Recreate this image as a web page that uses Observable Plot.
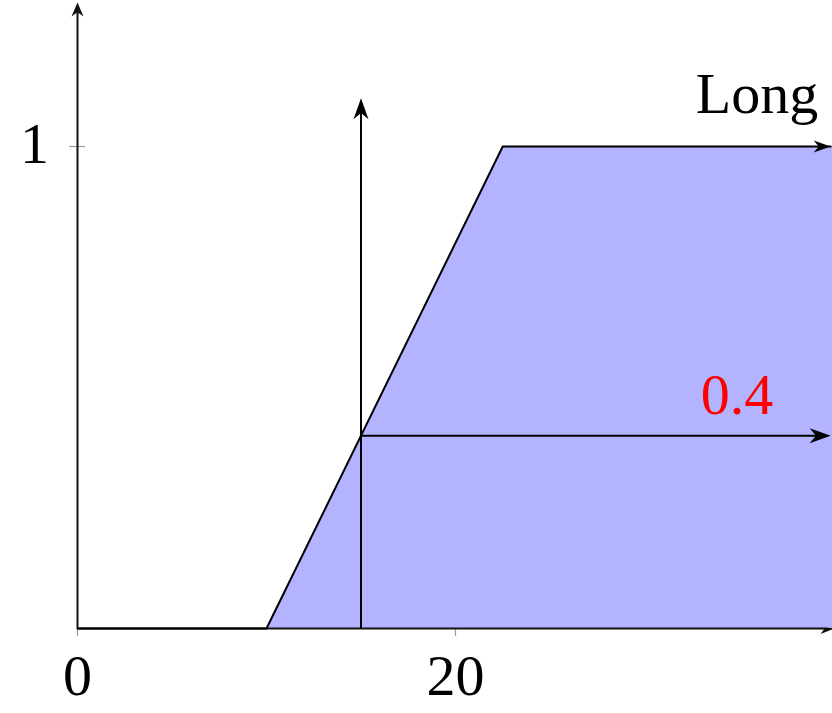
<!DOCTYPE html>
<html>
<head>
<meta charset="utf-8">
<script src="https://cdn.jsdelivr.net/npm/d3@7"></script>
<script src="https://cdn.jsdelivr.net/npm/@observablehq/plot@0.6"></script>
<style>
  html, body { margin: 0; padding: 0; background: #fff; }
  svg { display: block; }
  svg text { font-family: "Liberation Serif", "Times New Roman", serif !important; }
</style>
</head>
<body>
<div id="chart"></div>
<script>
// ---- data ----
const xTickValues = [0, 20];
const xTickLabels = ["0", "20"];
const yTickValues = [1];
const yTickLabels = ["1"];

// membership function "Long" (trapezoid)
const curveX = [0, 10, 22.5, 39.85];
const curveY = [0, 0, 1, 1];
const fillX = [10, 22.5, 40];
const fillY = [0, 1, 1];

// input value and membership degree
const inputX = 15;
const degree = 0.4;
const inputArrowTop = 1.1;
const arrowEndX = 39.85;

const setName = "Long";
const degreeLabel = "0.4";
const yAxisTop = 1.299;
const xAxisEnd = 40.05;

// ---- helpers ----
const stealth = (L, W) => ({
  draw(ctx) {
    ctx.moveTo(0, 0);
    ctx.lineTo(W / 2, L);
    ctx.lineTo(0, 0.7 * L);
    ctx.lineTo(-W / 2, L);
    ctx.closePath();
  }
});
const font = "Liberation Serif, serif";
const fillData = fillX.map((x, i) => ({x, y: fillY[i]}));
const curveData = curveX.map((x, i) => ({x, y: curveY[i]}));

const chart = Plot.plot({
  width: 832,
  height: 713,
  x: {domain: [0, 40], range: [77, 833], axis: null},
  y: {domain: [0, 1], range: [628, 146], axis: null},
  style: {background: "#fff", overflow: "hidden", fontFamily: "Liberation Serif, serif"},
  marks: [
    // x-axis arrowhead (under fill)
    Plot.dot([{x: xAxisEnd, y: 0}], {x: "x", y: "y", symbol: stealth(14, 11), rotate: 90, fill: "#111", stroke: "none"}),
    // shaded membership region
    Plot.areaY(fillData, {x: "x", y: "y", fill: "#b3b3ff", stroke: "none"}),
    // ticks
    Plot.ruleX(xTickValues, {x: d => d, y1: 0, y2: -0.0166, stroke: "#9a9a9a", strokeWidth: 1.2}),
    Plot.ruleY(yTickValues, {y: d => d, x1: -0.42, x2: 0.42, stroke: "#9a9a9a", strokeWidth: 1.2}),
    // axes lines
    Plot.ruleY([0], {x1: 0, x2: xAxisEnd - 0.3, stroke: "#111", strokeWidth: 2}),
    Plot.ruleX([0], {y1: 0, y2: yAxisTop - 0.01, stroke: "#111", strokeWidth: 2}),
    Plot.dot([{x: 0, y: yAxisTop}], {x: "x", y: "y", symbol: stealth(14, 12), rotate: 0, fill: "#111", stroke: "none"}),
    // membership function outline
    Plot.line(curveData, {x: "x", y: "y", stroke: "#000", strokeWidth: 2, strokeLinejoin: "miter"}),
    Plot.dot([{x: arrowEndX, y: 1}], {x: "x", y: "y", symbol: stealth(17, 12), rotate: 90, fill: "#000", stroke: "none"}),
    // input vertical arrow
    Plot.ruleX([inputX], {y1: 0, y2: inputArrowTop - 0.01, stroke: "#000", strokeWidth: 2}),
    Plot.dot([{x: inputX, y: inputArrowTop}], {x: "x", y: "y", symbol: stealth(21, 15), rotate: 0, fill: "#000", stroke: "none"}),
    // degree horizontal arrow
    Plot.ruleY([degree], {x1: inputX, x2: arrowEndX - 0.4, stroke: "#000", strokeWidth: 2}),
    Plot.dot([{x: arrowEndX, y: degree}], {x: "x", y: "y", symbol: stealth(21, 15), rotate: 90, fill: "#000", stroke: "none"}),
    // tick labels
    Plot.text(xTickValues, {x: d => d, y: -0.137, text: (d, i) => xTickLabels[i], lineAnchor: "bottom", textAnchor: "middle", fontSize: 58, fontFamily: font, fill: "#000"}),
    Plot.text(yTickValues, {x: -2.28, y: d => d - 0.035, text: (d, i) => yTickLabels[i], lineAnchor: "bottom", textAnchor: "middle", fontSize: 58, fontFamily: font, fill: "#000"}),
    // labels
    Plot.text([setName], {x: 35.95, y: 1.0705, text: d => d, lineAnchor: "bottom", textAnchor: "middle", fontSize: 58, fontFamily: font, fill: "#000"}),
    Plot.text([degreeLabel], {x: 34.89, y: 0.446, text: d => d, lineAnchor: "bottom", textAnchor: "middle", fontSize: 58, fontFamily: font, fill: "#ff0000"})
  ]
});
document.getElementById("chart").appendChild(chart);
</script>
</body>
</html>
